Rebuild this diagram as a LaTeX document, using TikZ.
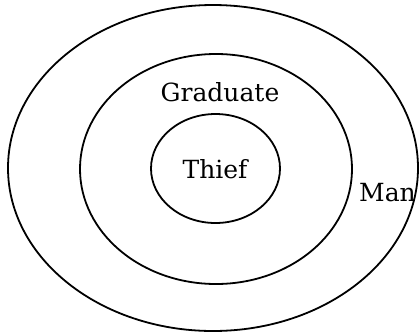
\documentclass[tikz,border=0pt]{standalone}
\usepackage{fontspec}
\setmainfont{DejaVu Serif}
\tikzset{ring/.style={draw,line width=1.8pt}, lbl/.style={font=\fontsize{25}{28}\selectfont, inner sep=0pt}}
\begin{document}
\begin{tikzpicture}[x=1pt,y=-1pt]
\useasboundingbox (0,0) rectangle (420,333);
\draw[ring] (213,168) ellipse [x radius=205, y radius=163];
\draw[ring] (216,169) ellipse [x radius=136, y radius=115];
\draw[ring] (215.5,168.5) ellipse [x radius=64.5, y radius=54.5];
\node[lbl] (grad) at (220,92) {Graduate};
\node[lbl] (thief) at (215,169) {Thief};
\node[lbl, anchor=west] (man) at (359,193) {Man};
\end{tikzpicture}
\end{document}
